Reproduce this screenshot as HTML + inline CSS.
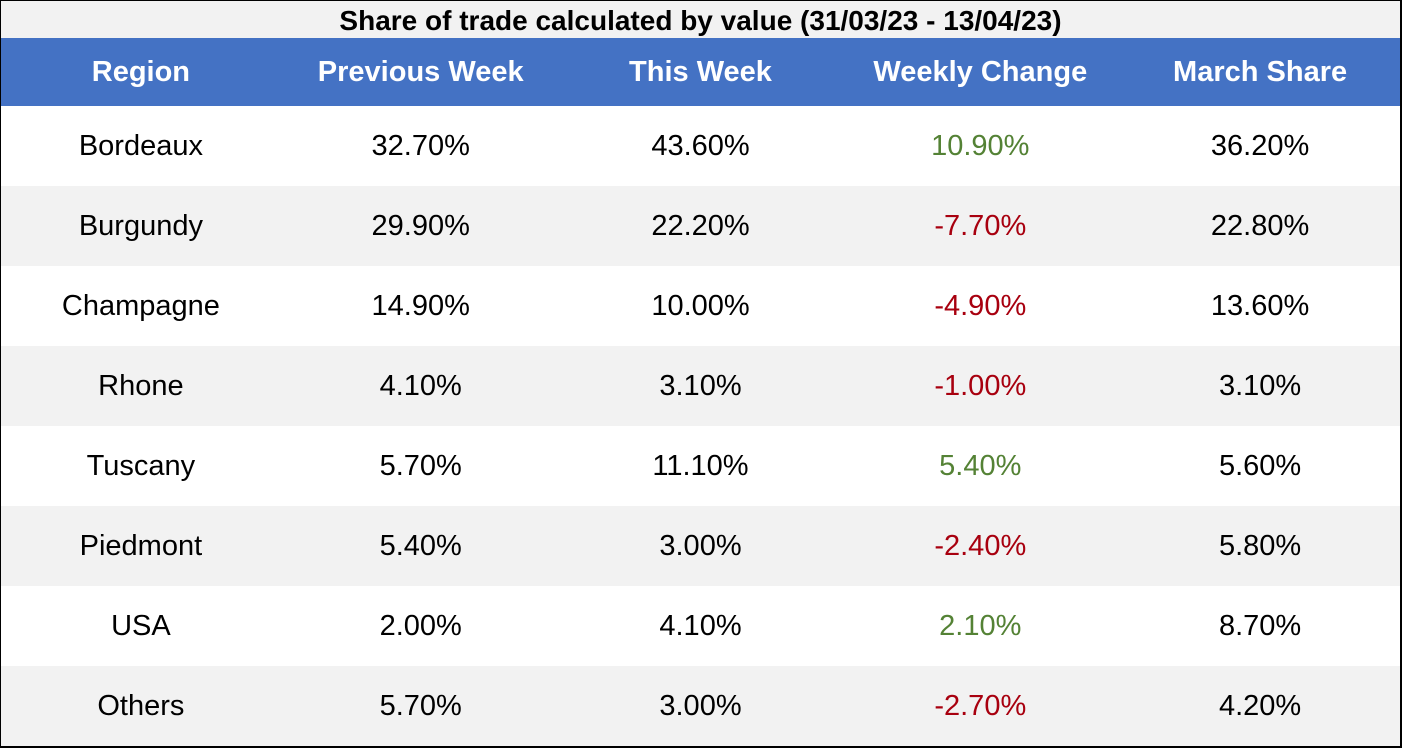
<!DOCTYPE html>
<html><head><meta charset="utf-8"><style>
*{margin:0;padding:0;box-sizing:border-box}
body{width:1402px;height:748px;overflow:hidden;background:#fff;font-family:"Liberation Sans",sans-serif}
#wrap{position:absolute;left:0;top:0;width:1402px;height:748px;border:2px solid #000;border-top-width:1px;border-left-width:1px}
.title{position:absolute;left:0;top:0;width:1399px;height:37px;background:#f2f2f2;text-align:center;font-weight:bold;font-size:28px;line-height:40px;color:#000;white-space:nowrap}
table{position:absolute;left:0;top:37px;width:1399px;border-collapse:collapse;table-layout:fixed}
th{background:#4472c4;color:#fff;font-weight:bold;font-size:29px;height:68px;text-align:center}
td{height:80px;font-size:29px;text-align:center;color:#000}
tr:nth-child(even) td{background:#f2f2f2}
.pos{color:#548235}.neg{color:#a8000f}
</style></head><body>
<div id="wrap">
<div class="title">Share of trade calculated by value (31/03/23 - 13/04/23)</div>
<table>
<thead><tr>
<th>Region</th>
<th>Previous Week</th>
<th>This Week</th>
<th>Weekly Change</th>
<th>March Share</th>
</tr></thead>
<tbody id="tb"></tbody>
</table>
</div>
<script>
const regions=["Bordeaux","Burgundy","Champagne","Rhone","Tuscany","Piedmont","USA","Others"];
const prevWeek=[32.7,29.9,14.9,4.1,5.7,5.4,2.0,5.7];
const thisWeek=[43.6,22.2,10.0,3.1,11.1,3.0,4.1,3.0];
const weeklyChange=[10.9,-7.7,-4.9,-1.0,5.4,-2.4,2.1,-2.7];
const marchShare=[36.2,22.8,13.6,3.1,5.6,5.8,8.7,4.2];
const tb=document.getElementById('tb');
const f=v=>v.toFixed(2)+'%';
regions.forEach((r,i)=>{
 const tr=document.createElement('tr');
 
 
 const cells=[[r,'region'],[f(prevWeek[i]),'previous-week'],[f(thisWeek[i]),'this-week'],[f(weeklyChange[i]),'weekly-change'],[f(marchShare[i]),'march-share']];
 cells.forEach((c,j)=>{
  const td=document.createElement('td');
  td.textContent=c[0];
  
  
  if(j===3)td.className=weeklyChange[i]>=0?'pos':'neg';
  tr.appendChild(td);
 });
 tb.appendChild(tr);
});
</script>
</body></html>
